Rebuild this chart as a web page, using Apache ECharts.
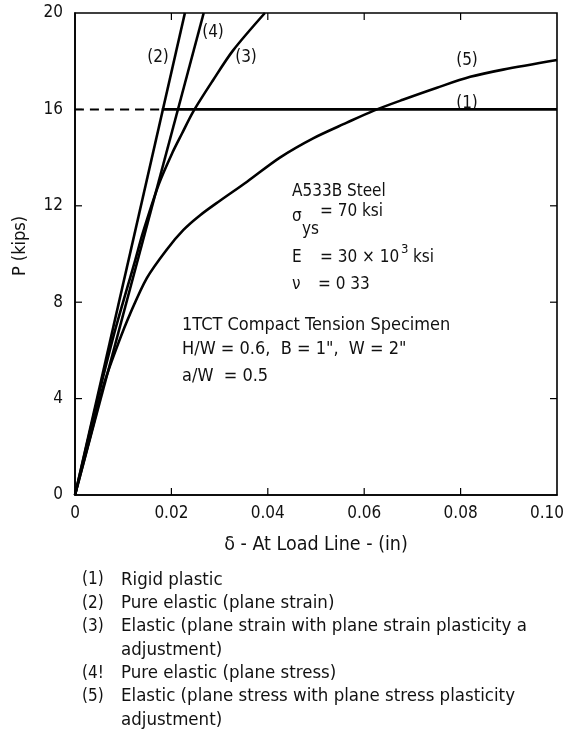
<!DOCTYPE html>
<html>
<head>
<meta charset="utf-8">
<script src="https://cdn.jsdelivr.net/npm/echarts@6/dist/echarts.min.js"></script>
<style>
  html, body { margin: 0; padding: 0; background: #fff; }
  #chart { width: 571px; height: 731px; }
</style>
</head>
<body>
<div id="chart"></div>
<script>
// values: [delta (in), P (kips)]
var xTicks = [0, 0.02, 0.04, 0.06, 0.08, 0.10];
var xTickLabels = ['0', '0.02', '0.04', '0.06', '0.08', '0.10'];
var yTicks = [0, 4, 8, 12, 16, 20];

var rigidDashed = [[0, 16], [0.018, 16]];
var rigidPlastic = [[0.018, 16], [0.10, 16]];
var elasticStrain = [[0, 0], [0.0228, 20]];
var elasticStress = [[0, 0], [0.0267, 20]];
var plasticStrain = [[0, 0], [0.004, 3.4], [0.008, 6.6], [0.0125, 9.75], [0.0141, 10.9], [0.0174, 12.9],
    [0.0202, 14.2], [0.0222, 15.0], [0.0245, 15.9], [0.0286, 17.2], [0.0328, 18.45], [0.0394, 20]];
var plasticStress = [[0, 0], [0.003, 2.3], [0.006, 4.6], [0.009, 6.3], [0.0114, 7.5], [0.0149, 9.0],
    [0.0191, 10.2], [0.0225, 11.0], [0.0259, 11.6], [0.03, 12.2], [0.0357, 13.0], [0.0425, 14.0],
    [0.0494, 14.8], [0.0564, 15.45], [0.062, 15.95], [0.068, 16.4], [0.0751, 16.9], [0.082, 17.35],
    [0.0888, 17.65], [0.10, 18.05]];

var legendLines = [
    ['(1)', 'Rigid plastic'],
    ['(2)', 'Pure elastic (plane strain)'],
    ['(3)', 'Elastic (plane strain with plane strain plasticity a'],
    ['', 'adjustment)'],
    ['(4!', 'Pure elastic (plane stress)'],
    ['(5)', 'Elastic (plane stress with plane stress plasticity'],
    ['', 'adjustment)']
];

var FONT = "'DejaVu Sans Condensed','Liberation Sans Narrow','Liberation Sans',sans-serif";

var myChart = echarts.init(document.getElementById('chart'));

function txt(text, x, y, size, align) {
    return {
        type: 'text', x: x, y: y, silent: true,
        style: { text: text, fontSize: size, fontFamily: FONT, fill: '#111', align: align || 'left', verticalAlign: 'middle' }
    };
}

function curve(data, dashed) {
    return {
        type: 'line', data: data, symbol: 'none', smooth: 0.3, clip: true,
        lineStyle: { color: '#000', width: dashed ? 2 : 2.6, type: dashed ? [9, 6] : 'solid' }
    };
}

// inward tick marks on all four sides of the frame
var tickData = [];
xTicks.slice(1, -1).forEach(function (v) { tickData.push([v, 0, 0]); tickData.push([v, 20, 1]); });
yTicks.slice(1, -1).forEach(function (v) { tickData.push([0, v, 2]); tickData.push([0.1, v, 3]); });

var graphics = [
    txt('(2)', 158, 58, 17, 'center'),
    txt('(4)', 213, 33, 17, 'center'),
    txt('(3)', 246, 58, 17, 'center'),
    txt('(5)', 467, 61, 17, 'center'),
    txt('(1)', 467, 104, 17, 'center'),
    txt('A533B Steel', 292, 192, 17),
    txt('σ', 292, 217, 17),
    txt('ys', 302, 230, 17),
    txt('= 70 ksi', 320, 212, 17),
    txt('E', 292, 258, 17),
    txt('= 30 × 10', 320, 258, 17),
    txt('3', 401, 250, 13),
    txt('ksi', 413, 258, 17),
    txt('ν', 292, 285, 17),
    txt('= 0 33', 318, 285, 17),
    txt('1TCT Compact Tension Specimen', 182, 325, 18),
    txt('H/W = 0.6,  B = 1",  W = 2"', 182, 349, 18),
    txt('a/W  = 0.5', 182, 376, 18),
    {
        type: 'text', x: 20, y: 246, rotation: Math.PI / 2, silent: true,
        style: { text: 'P (kips)', fontSize: 18, fontFamily: FONT, fill: '#111', align: 'center', verticalAlign: 'middle' }
    }
];
for (var i = 0; i < legendLines.length; i++) {
    var ly = 580 + i * 23.3;
    if (legendLines[i][0]) graphics.push(txt(legendLines[i][0], 82, ly, 17));
    graphics.push(txt(legendLines[i][1], 121, ly, 18.5));
}

var option = {
    animation: false,
    backgroundColor: '#fff',
    grid: { left: 75, right: 14, top: 13, bottom: 236, show: true, borderColor: '#000', borderWidth: 1.6 },
    xAxis: {
        type: 'value', min: 0, max: 0.1, interval: 0.02,
        name: 'δ - At Load Line - (in)', nameLocation: 'middle', nameGap: 40,
        nameTextStyle: { fontSize: 19.5, fontFamily: FONT, color: '#111' },
        axisLine: { lineStyle: { color: '#000', width: 1.6 } },
        axisTick: { show: false },
        splitLine: { show: false },
        axisLabel: {
            margin: 10, fontSize: 17, fontFamily: FONT, color: '#111',
            formatter: function (v) {
                var k = xTicks.indexOf(Math.round(v * 100) / 100);
                var s = k >= 0 ? xTickLabels[k] : '';
                return k === xTicks.length - 1 ? '{last|' + s + '}' : s;
            },
            rich: { last: { fontSize: 17, fontFamily: FONT, color: '#111', padding: [0, 20, 0, 0] } }
        }
    },
    yAxis: {
        type: 'value', min: 0, max: 20, interval: 4,
        axisLine: { show: true, lineStyle: { color: '#000', width: 1.6 } },
        axisTick: { show: false },
        splitLine: { show: false },
        axisLabel: { margin: 12, fontSize: 17, fontFamily: FONT, color: '#111',
            formatter: function (v) { return yTicks.indexOf(v) >= 0 ? String(v) : ''; } }
    },
    series: [
        curve(rigidDashed, true),
        curve(rigidPlastic),
        curve(elasticStrain),
        curve(elasticStress),
        curve(plasticStrain),
        curve(plasticStress),
        {
            type: 'custom', data: tickData, silent: true,
            renderItem: function (params, api) {
                var p = api.coord([api.value(0), api.value(1)]);
                var side = api.value(2), L = 7;
                var d = [[0, -L], [0, L], [L, 0], [-L, 0]][side];
                return {
                    type: 'line',
                    shape: { x1: p[0], y1: p[1], x2: p[0] + d[0], y2: p[1] + d[1] },
                    style: { stroke: '#000', lineWidth: 1.2 }
                };
            }
        }
    ],
    graphic: graphics
};

myChart.setOption(option);
</script>
</body>
</html>
